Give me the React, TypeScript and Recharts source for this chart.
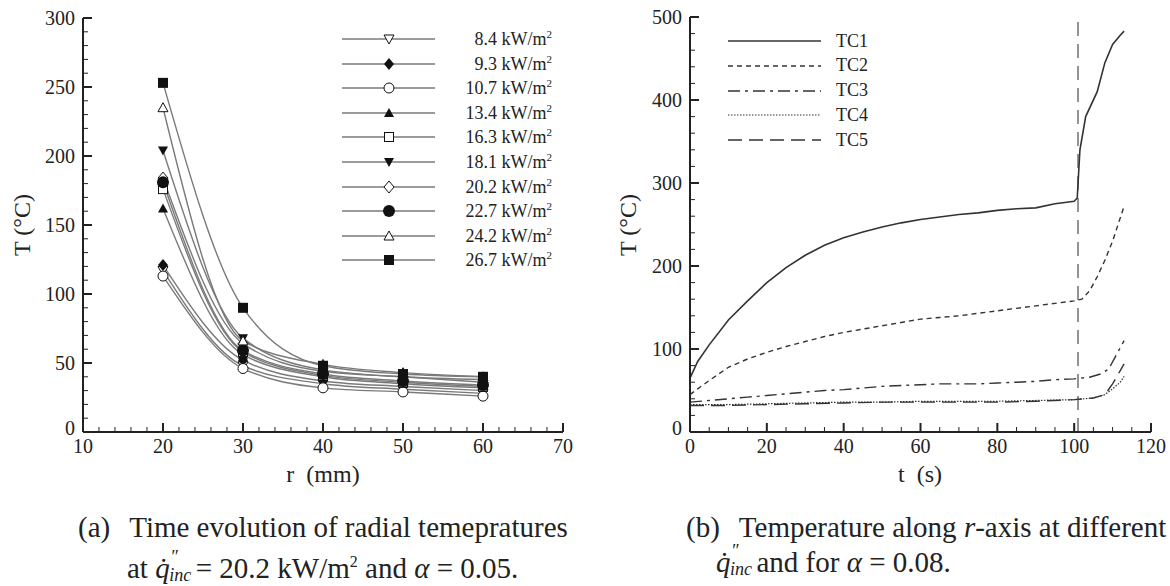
import React from 'react'
import { LineChart, Line, XAxis, YAxis, ReferenceLine } from 'recharts'

// panel (a): radial temperatures
const radii = [20, 30, 40, 50, 60]
const fluxLabels = ['8.4', '9.3', '10.7', '13.4', '16.3', '18.1', '20.2', '22.7', '24.2', '26.7']
const markerShapes = [
  'triDownOpen',
  'diamondFilled',
  'circleOpen',
  'triUpFilled',
  'squareOpen',
  'triDownFilled',
  'diamondOpen',
  'circleFilled',
  'triUpOpen',
  'squareFilled',
]
const T84 = [117, 48, 35, 31, 28]
const T93 = [121, 52, 37, 33, 30]
const T107 = [113, 46, 32, 29, 26]
const T134 = [162, 56, 40, 35, 32]
const T163 = [176, 58, 41, 36, 33]
const T181 = [204, 68, 45, 40, 38]
const T202 = [184, 64, 44, 40, 36]
const T227 = [181, 59, 42, 37, 34]
const T242 = [235, 66, 49, 43, 40]
const T267 = [253, 90, 48, 42, 40]
const fluxSeries = [T84, T93, T107, T134, T163, T181, T202, T227, T242, T267]

// panel (b): thermocouple traces
const tc1Time = [0, 2, 5, 10, 15, 20, 25, 30, 35, 40, 45, 50, 55, 60, 65, 70, 75, 80, 85, 90, 95, 100, 100.8, 101.5, 103, 106, 108, 110, 112, 113]
const tc1Temp = [65, 85, 105, 135, 158, 180, 198, 213, 225, 234, 241, 247, 252, 256, 259, 262, 264, 267, 269, 270, 275, 278, 282, 340, 380, 410, 445, 467, 478, 483]
const tc2Time = [0, 2, 5, 10, 15, 20, 25, 30, 35, 40, 45, 50, 55, 60, 65, 70, 75, 80, 85, 90, 95, 100, 102, 104, 106, 108, 110, 112, 113]
const tc2Temp = [45, 52, 62, 78, 88, 96, 103, 109, 115, 120, 124, 128, 132, 136, 138, 140, 143, 146, 149, 152, 155, 158, 160, 170, 187, 207, 230, 258, 272]
const tc3Time = [0, 5, 10, 15, 20, 25, 30, 35, 40, 45, 50, 55, 60, 65, 70, 75, 80, 85, 90, 95, 100, 104, 107, 109, 111, 113]
const tc3Temp = [36, 38, 40, 42, 44, 46, 48, 50, 51, 53, 55, 56, 57, 58, 58, 58, 59, 60, 61, 63, 64, 66, 70, 76, 93, 110]
const tc4Time = [0, 5, 10, 20, 30, 40, 50, 60, 70, 80, 90, 100, 105, 108, 110, 112, 113]
const tc4Temp = [33, 33, 33, 34, 35, 36, 36, 37, 37, 37, 38, 39, 41, 45, 52, 60, 67]
const tc5Time = [0, 5, 10, 20, 30, 40, 50, 60, 70, 80, 90, 100, 105, 108, 110, 112, 113]
const tc5Temp = [32, 32, 32, 33, 34, 35, 36, 36, 36, 36, 37, 39, 41, 45, 58, 74, 82]
const ignitionTime = 101

const serif = '"Liberation Serif", "Times New Roman", serif'
const ink = '#222'
const curveGray = '#7a7a7a'

const panelAData = radii.map((r, i) => {
  const row: Record<string, number> = { r }
  fluxSeries.forEach((s, k) => (row['s' + k] = s[i]))
  return row
})

const toPoints = (ts: number[], vs: number[]) => ts.map((t, i) => ({ t, T: vs[i] }))

const tcSeries = [
  { name: 'TC1', data: toPoints(tc1Time, tc1Temp), dash: undefined, width: 1.6 },
  { name: 'TC2', data: toPoints(tc2Time, tc2Temp), dash: '5 4', width: 1.4 },
  { name: 'TC3', data: toPoints(tc3Time, tc3Temp), dash: '12 5 3 5', width: 1.4 },
  { name: 'TC4', data: toPoints(tc4Time, tc4Temp), dash: '1.5 1.5', width: 1.2 },
  { name: 'TC5', data: toPoints(tc5Time, tc5Temp), dash: '14 7', width: 1.4 },
]

const range = (a: number, b: number, step: number) => {
  const out: number[] = []
  for (let v = a; v <= b + 1e-9; v += step) out.push(v)
  return out
}

function Marker({ cx, cy, shape }: { cx: number; cy: number; shape: string }) {
  const s = '#111'
  switch (shape) {
    case 'triDownOpen':
      return <polygon points={`${cx - 5},${cy - 4} ${cx + 5},${cy - 4} ${cx},${cy + 5}`} fill='#fff' stroke={s} strokeWidth={1} />
    case 'triDownFilled':
      return <polygon points={`${cx - 5},${cy - 4} ${cx + 5},${cy - 4} ${cx},${cy + 5}`} fill={s} />
    case 'triUpOpen':
      return <polygon points={`${cx - 5},${cy + 4} ${cx + 5},${cy + 4} ${cx},${cy - 5}`} fill='#fff' stroke={s} strokeWidth={1} />
    case 'triUpFilled':
      return <polygon points={`${cx - 5},${cy + 4} ${cx + 5},${cy + 4} ${cx},${cy - 5}`} fill={s} />
    case 'diamondOpen':
      return <polygon points={`${cx},${cy - 6} ${cx + 5},${cy} ${cx},${cy + 6} ${cx - 5},${cy}`} fill='#fff' stroke={s} strokeWidth={1} />
    case 'diamondFilled':
      return <polygon points={`${cx},${cy - 6} ${cx + 5},${cy} ${cx},${cy + 6} ${cx - 5},${cy}`} fill={s} />
    case 'circleOpen':
      return <circle cx={cx} cy={cy} r={5} fill='#fff' stroke={s} strokeWidth={1} />
    case 'circleFilled':
      return <circle cx={cx} cy={cy} r={6} fill={s} />
    case 'squareOpen':
      return <rect x={cx - 4.5} y={cy - 4.5} width={9} height={9} fill='#fff' stroke={s} strokeWidth={1} />
    default:
      return <rect x={cx - 5} y={cy - 5} width={10} height={10} fill={s} />
  }
}

const makeYTick = (major: number) => (props: any) => {
  const { x, y, payload } = props
  const isMajor = payload.value % major === 0
  return (
    <g>
      <line x1={x} x2={x + (isMajor ? 9 : 5)} y1={y} y2={y} stroke={ink} strokeWidth={isMajor ? 2 : 1} />
      {isMajor && (
        <text x={x - 8} y={payload.value === 0 ? y - 4 : y} dy='0.35em' textAnchor='end' fontSize={20} fontFamily={serif} fill={ink}>
          {payload.value}
        </text>
      )}
    </g>
  )
}

const makeXTick = (major: number) => (props: any) => {
  const { x, y, payload } = props
  const isMajor = payload.value % major === 0
  return (
    <g>
      <line x1={x} x2={x} y1={y} y2={y - (isMajor ? 9 : 5)} stroke={ink} strokeWidth={isMajor ? 2 : 1} />
      {isMajor && (
        <text x={x} y={y + 21} textAnchor='middle' fontSize={20} fontFamily={serif} fill={ink}>
          {payload.value}
        </text>
      )}
    </g>
  )
}

const abs = (left: number, top: number): React.CSSProperties => ({ position: 'absolute', left, top })

// q-dot with stacked double prime and "inc" subscript
const Qdot = () => (
  <span style={{ position: 'relative', display: 'inline-block', paddingRight: 26, fontStyle: 'italic' }}>
    q&#775;
    <span style={{ position: 'absolute', left: 15, top: -3, fontSize: 18, lineHeight: 1 }}>&#8243;</span>
    <span style={{ position: 'absolute', left: 14, top: 15, fontSize: 18, lineHeight: 1 }}>inc</span>
  </span>
)

const captionStyle: React.CSSProperties = { fontSize: 29, whiteSpace: 'nowrap', lineHeight: '34px' }

export default function App() {
  return (
    <div
      style={{
        position: 'absolute',
        left: 0,
        top: 0,
        width: 1170,
        height: 586,
        background: '#fff',
        overflow: 'hidden',
        fontFamily: serif,
        color: ink,
      }}
    >
      {/* panel (a) */}
      <div style={abs(0, 0)}>
        <LineChart width={620} height={480} data={panelAData} margin={{ top: 18, right: 57, left: 23, bottom: 18 }}>
          <XAxis
            dataKey='r'
            type='number'
            domain={[10, 70]}
            ticks={range(10, 70, 2)}
            interval={0}
            tickSize={0}
            tickMargin={0}
            tickLine={false}
            tick={makeXTick(10)}
            axisLine={{ stroke: ink, strokeWidth: 2 }}
            height={30}
          />
          <YAxis
            type='number'
            domain={[0, 300]}
            ticks={range(0, 300, 10)}
            interval={0}
            tickSize={0}
            tickMargin={0}
            tickLine={false}
            tick={makeYTick(50)}
            axisLine={{ stroke: ink, strokeWidth: 2 }}
            width={60}
          />
          {fluxLabels.map((label, k) => (
            <Line
              key={label}
              dataKey={'s' + k}
              type='monotone'
              stroke={curveGray}
              strokeWidth={1.4}
              isAnimationActive={false}
              dot={(p: any) => <Marker key={`${k}-${p.index}`} cx={p.cx} cy={p.cy} shape={markerShapes[k]} />}
            />
          ))}
        </LineChart>
      </div>

      {/* legend (a) */}
      {fluxLabels.map((label, k) => (
        <div key={label} style={{ ...abs(340, 27 + k * 24.6), width: 212, height: 24, display: 'flex', alignItems: 'center' }}>
          <svg width={96} height={24}>
            <line x1={2} x2={95} y1={12} y2={12} stroke={curveGray} strokeWidth={1.4} />
            <Marker cx={49} cy={12} shape={markerShapes[k]} />
          </svg>
          <span style={{ flex: 1, textAlign: 'right', fontSize: 18, whiteSpace: 'nowrap' }}>
            {label} kW/m<sup style={{ fontSize: 11, verticalAlign: 7 }}>2</sup>
          </span>
        </div>
      ))}

      <div style={{ ...abs(22, 225), transform: 'translate(-50%, -50%) rotate(-90deg)', fontSize: 24, whiteSpace: 'nowrap' }}>T (°C)</div>
      <div style={{ ...abs(323, 474), transform: 'translate(-50%, -50%)', fontSize: 24, whiteSpace: 'pre' }}>r  (mm)</div>

      {/* panel (b) */}
      <div style={abs(620, 0)}>
        <LineChart width={550} height={480} margin={{ top: 17, right: 19, left: 10, bottom: 18 }}>
          <XAxis
            dataKey='t'
            type='number'
            domain={[0, 120]}
            ticks={range(0, 120, 5)}
            interval={0}
            tickSize={0}
            tickMargin={0}
            tickLine={false}
            tick={makeXTick(20)}
            axisLine={{ stroke: ink, strokeWidth: 2 }}
            height={30}
            allowDuplicatedCategory={false}
          />
          <YAxis
            type='number'
            domain={[0, 500]}
            ticks={range(0, 500, 20)}
            interval={0}
            tickSize={0}
            tickMargin={0}
            tickLine={false}
            tick={makeYTick(100)}
            axisLine={{ stroke: ink, strokeWidth: 2 }}
            width={60}
          />
          <ReferenceLine x={ignitionTime} stroke='#666' strokeWidth={1.4} strokeDasharray='14 8' />
          {tcSeries.map((s) => (
            <Line
              key={s.name}
              data={s.data}
              dataKey='T'
              name={s.name}
              type='linear'
              stroke='#333'
              strokeWidth={s.width}
              strokeDasharray={s.dash}
              dot={false}
              isAnimationActive={false}
            />
          ))}
        </LineChart>
      </div>

      {/* legend (b) */}
      {tcSeries.map((s, k) => (
        <div key={s.name} style={{ ...abs(726, 29 + k * 24.8), height: 24, display: 'flex', alignItems: 'center' }}>
          <svg width={98} height={24}>
            <line x1={2} x2={95} y1={12} y2={12} stroke='#333' strokeWidth={s.width} strokeDasharray={s.dash} />
          </svg>
          <span style={{ marginLeft: 12, fontSize: 18 }}>{s.name}</span>
        </div>
      ))}

      <div style={{ ...abs(628, 225), transform: 'translate(-50%, -50%) rotate(-90deg)', fontSize: 24, whiteSpace: 'nowrap' }}>T (°C)</div>
      <div style={{ ...abs(920, 474), transform: 'translate(-50%, -50%)', fontSize: 24, whiteSpace: 'pre' }}>t  (s)</div>

      {/* captions */}
      <div style={{ ...abs(78, 510), ...captionStyle }}>
        (a)<span style={{ display: 'inline-block', width: 19 }} />Time evolution of radial temepratures
      </div>
      <div style={{ ...abs(127, 545), ...captionStyle }}>
        at <Qdot />= 20.2 kW/m<sup style={{ fontSize: 16, verticalAlign: 11 }}>2</sup> and <i>α</i> = 0.05.
      </div>
      <div style={{ ...abs(686, 510), ...captionStyle }}>
        (b)<span style={{ display: 'inline-block', width: 19 }} />Temperature along <i>r</i>-axis at different
      </div>
      <div style={{ ...abs(716, 545), ...captionStyle }}>
        <Qdot />and for <i>α</i> = 0.08.
      </div>
    </div>
  )
}
